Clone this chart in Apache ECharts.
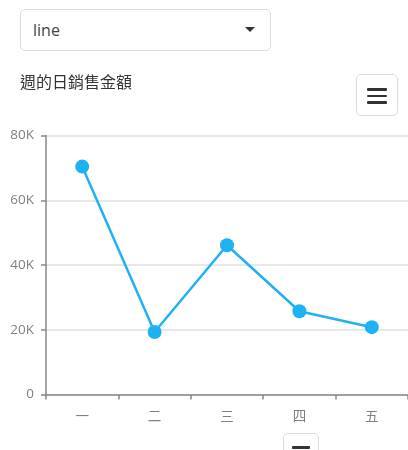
<!DOCTYPE html>
<html>
<head>
<meta charset="utf-8">
<script src="https://cdn.jsdelivr.net/npm/echarts@6/dist/echarts.min.js"></script>
<style>
  html, body { margin: 0; padding: 0; background: #fff; width: 408px; height: 450px; overflow: hidden; font-family: 'Open Sans', 'Noto Sans CJK TC', sans-serif; }
  #chart { position: absolute; left: 0; top: 0; width: 408px; height: 450px; }
  .sel { position: absolute; left: 20px; top: 9px; width: 251px; height: 42px; border: 1px solid #dcdcdc; border-radius: 5px; box-sizing: border-box; background: #fff; }
  .sel span { position: absolute; left: 12px; top: 9px; font-size: 16px; color: #444; font-family: 'Open Sans', sans-serif; }
  .caret { position: absolute; left: 224px; top: 17px; width: 0; height: 0; border-left: 5px solid transparent; border-right: 5px solid transparent; border-top: 5px solid #333; }
  .btn { position: absolute; border: 1px solid #dcdcdc; border-radius: 5px; box-sizing: border-box; background: #fff; }
  .bar { position: absolute; height: 2.5px; background: #333; border-radius: 1px; }
</style>
</head>
<body>
<div id="chart"></div>
<div class="sel"><span>line</span><div class="caret"></div></div>
<div class="btn" style="left:356px;top:74px;width:42px;height:42px;">
  <div class="bar" style="left:10px;top:13px;width:20px;"></div>
  <div class="bar" style="left:10px;top:19.5px;width:20px;"></div>
  <div class="bar" style="left:10px;top:26px;width:20px;"></div>
</div>
<div class="btn" style="left:283px;top:433px;width:36px;height:30px;">
  <div class="bar" style="left:8px;top:12px;width:18px;"></div>
</div>
<script>
const titleText = '週的日銷售金額';
const categories = ['一', '二', '三', '四', '五'];
const sales = [70400, 19300, 46100, 25700, 20800];
const yTicks = { min: 0, max: 80000, interval: 20000 };

const chart = echarts.init(document.getElementById('chart'));
chart.setOption({
  animation: false,
  title: {
    text: titleText, left: 15, top: 69,
    textStyle: { fontSize: 16, fontWeight: 'normal', color: '#333', fontFamily: 'Noto Sans CJK TC' }
  },
  grid: { left: 46, top: 135.5, bottom: 55.5, right: -3, containLabel: false },
  xAxis: {
    type: 'category', data: categories, boundaryGap: true,
    axisLine: { lineStyle: { color: '#888', width: 1.5 } },
    axisTick: { show: true, length: 5, alignWithLabel: false, lineStyle: { color: '#888', width: 1.5 } },
    axisLabel: { color: '#808080', fontSize: 13.5, margin: 15, fontFamily: 'Noto Sans CJK TC' }
  },
  yAxis: {
    type: 'value', min: yTicks.min, max: yTicks.max, interval: yTicks.interval,
    axisLine: { show: true, lineStyle: { color: '#888', width: 1.5 } },
    axisTick: { show: true, length: 5, lineStyle: { color: '#888', width: 1.5 } },
    axisLabel: { color: '#808080', fontSize: 13.5, margin: 12, fontFamily: 'Open Sans',
      formatter: v => v === 0 ? '0' : (v / 1000) + 'K' },
    splitLine: { lineStyle: { color: '#e0e0e0', width: 1.5 } }
  },
  series: [{
    type: 'line', data: sales,
    symbol: 'circle', symbolSize: 14,
    lineStyle: { color: '#1fb2f2', width: 2.5 },
    itemStyle: { color: '#1fb2f2' }
  }]
});
</script>
</body>
</html>
